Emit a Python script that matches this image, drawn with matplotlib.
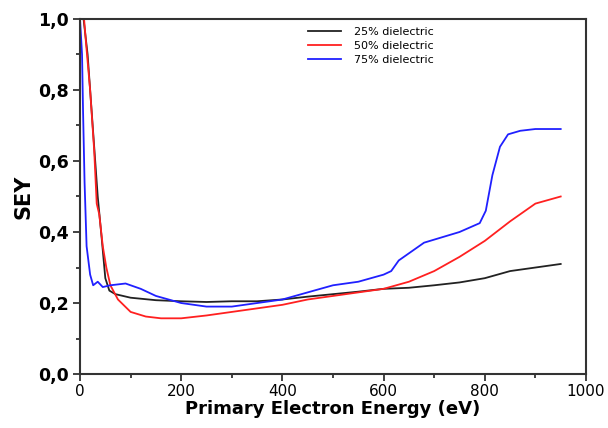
import matplotlib
matplotlib.use("Agg")
from matplotlib import pyplot as plt
from matplotlib.ticker import MultipleLocator, FuncFormatter

# primary electron energy (eV) / SEY
e_25 = [7, 15, 25, 35, 43, 50, 58, 70, 100, 150, 200, 250, 300, 350, 400, 450, 500,
        550, 600, 650, 700, 750, 800, 850, 900, 950]
sey_25 = [1.0, 0.90, 0.70, 0.50, 0.38, 0.27, 0.235, 0.225, 0.215, 0.208, 0.205, 0.203,
          0.205, 0.205, 0.21, 0.218, 0.225, 0.232, 0.24, 0.243, 0.25, 0.258, 0.27,
          0.29, 0.30, 0.31]

e_50 = [8, 12, 20, 28, 33, 38, 45, 52, 60, 75, 100, 130, 160, 200, 250, 300, 350, 400,
        450, 500, 550, 600, 650, 700, 750, 800, 850, 900, 950]
sey_50 = [1.0, 0.93, 0.80, 0.63, 0.48, 0.45, 0.36, 0.30, 0.25, 0.21, 0.175, 0.162,
          0.157, 0.157, 0.165, 0.175, 0.185, 0.195, 0.21, 0.22, 0.23, 0.24, 0.26, 0.29,
          0.33, 0.375, 0.43, 0.48, 0.50]

e_75 = [0, 4, 6, 9, 13, 20, 26, 35, 45, 60, 90, 120, 150, 200, 250, 300, 350, 400, 450,
        500, 550, 600, 615, 630, 680, 750, 790, 802, 815, 830, 846, 870, 900, 950]
sey_75 = [1.0, 0.90, 0.74, 0.54, 0.36, 0.28, 0.25, 0.26, 0.245, 0.25, 0.255, 0.24,
          0.22, 0.20, 0.19, 0.19, 0.20, 0.21, 0.23, 0.25, 0.26, 0.28, 0.29, 0.32, 0.37,
          0.40, 0.425, 0.46, 0.56, 0.64, 0.675, 0.685, 0.69, 0.69]

labels = ["25% dielectric", "50% dielectric", "75% dielectric"]

fig = plt.figure(figsize=(6.08, 4.28), dpi=100)
ax = fig.add_axes([0.1316, 0.126, 0.8322, 0.8298])

ax.plot(e_25, sey_25, color="#222222", lw=1.3, label=labels[0])
ax.plot(e_50, sey_50, color="#ff2020", lw=1.3, label=labels[1])
ax.plot(e_75, sey_75, color="#2020ff", lw=1.3, label=labels[2])

ax.set_xlim(0, 1000)
ax.set_ylim(0, 1.0)
ax.xaxis.set_major_locator(MultipleLocator(200))
ax.xaxis.set_minor_locator(MultipleLocator(100))
ax.yaxis.set_major_locator(MultipleLocator(0.2))
ax.yaxis.set_minor_locator(MultipleLocator(0.1))
ax.yaxis.set_major_formatter(FuncFormatter(lambda v, p: f"{v:.1f}".replace(".", ",")))

for s in ax.spines.values():
    s.set_linewidth(1.5)
    s.set_color("#333333")
ax.tick_params(which="both", direction="out", color="#333333", width=1.3)
ax.tick_params(which="major", length=5)
ax.tick_params(which="minor", length=3)
ax.tick_params(axis="x", labelsize=11, pad=2)
ax.tick_params(axis="y", labelsize=12.5, pad=3)
for t in ax.get_yticklabels():
    t.set_fontweight("bold")

ax.set_xlabel("Primary Electron Energy (eV)", fontsize=13, fontweight="bold", labelpad=1)
ax.set_ylabel("SEY", fontsize=15, fontweight="bold", labelpad=3)

ax.legend(loc="upper left", bbox_to_anchor=(0.43, 1.005), frameon=False, fontsize=8,
          handlelength=3, labelspacing=0.35, handletextpad=1.2)

fig.savefig("out.png", dpi=100)
